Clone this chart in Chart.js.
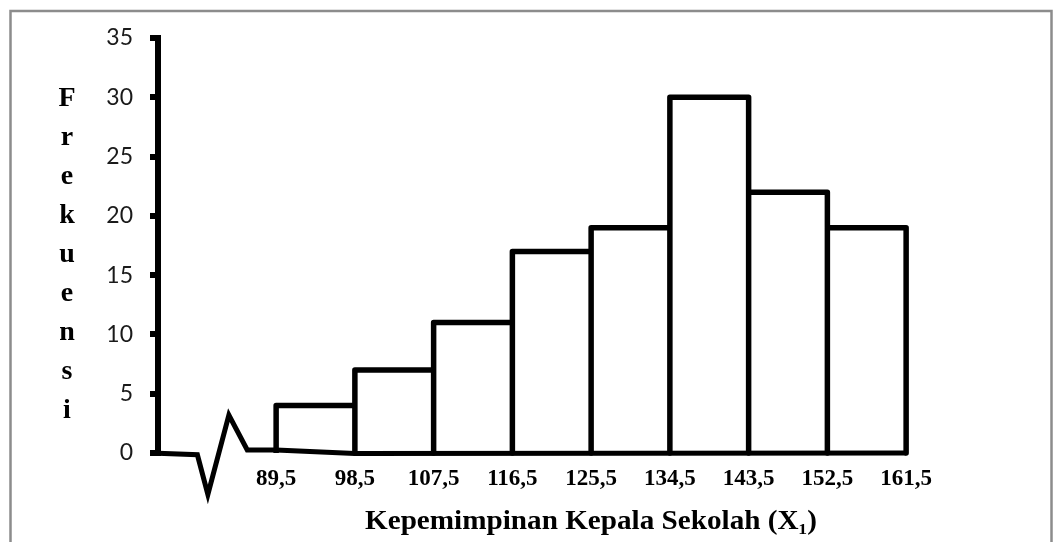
<!DOCTYPE html>
<html>
<head>
<meta charset="utf-8">
<script src="https://cdn.jsdelivr.net/npm/chart.js@4.4.1/dist/chart.umd.min.js"></script>
<style>
  html, body { margin: 0; padding: 0; background: #ffffff; }
  #wrap { width: 1055px; height: 542px; }
</style>
</head>
<body>
<div id="wrap"><canvas id="hist" width="1055" height="542"></canvas></div>
<script>
// Class boundaries and frequencies of the histogram
const classEdges = [89.5, 98.5, 107.5, 116.5, 125.5, 134.5, 143.5, 152.5, 161.5];
const edgeLabels = ['89,5', '98,5', '107,5', '116,5', '125,5', '134,5', '143,5', '152,5', '161,5'];
const frequencies = [4, 7, 11, 17, 19, 30, 22, 19];

// Axis break (zig-zag) on the horizontal axis, in data units
const breakX = [75.2, 80.5, 81.7, 84.1, 86.2, 89.5, 98.5, 161.5];
const breakY = [0, -0.15, -3.5, 3.2, 0.25, 0.25, -0.05, 0];

const yTitle = 'Frekuensi';
const xTitle = 'Kepemimpinan Kepala Sekolah (X\u2081)';

// Outline of every class bar: up the left edge, across the top, down the right edge
const outline = [];
frequencies.forEach((f, i) => {
  const lo = classEdges[i], hi = classEdges[i + 1];
  outline.push({ x: lo, y: 0 }, { x: lo, y: f }, { x: hi, y: f }, { x: hi, y: 0 });
});
const baseline = breakX.map((x, i) => ({ x, y: breakY[i] }));

const decorations = {
  id: 'decorations',
  beforeDraw(chart) {
    const ctx = chart.ctx;
    ctx.save();
    ctx.fillStyle = '#ffffff';
    ctx.fillRect(0, 0, chart.width, chart.height);
    ctx.strokeStyle = '#8c8c8c';
    ctx.lineWidth = 2.5;
    ctx.strokeRect(10.5, 11, 1041, 600);
    ctx.restore();
  },
  afterDraw(chart) {
    const ctx = chart.ctx;
    const xs = chart.scales.x;
    ctx.save();
    ctx.fillStyle = '#000000';

    // class boundary labels
    ctx.font = 'bold 23px "Liberation Serif", "Times New Roman", serif';
    ctx.textAlign = 'center';
    ctx.textBaseline = 'alphabetic';
    classEdges.forEach((v, i) => {
      ctx.fillText(edgeLabels[i], xs.getPixelForValue(v), 485);
    });

    // horizontal axis title
    ctx.font = 'bold 27px "Liberation Serif", "Times New Roman", serif';
    const w = ctx.measureText(xTitle).width;
    ctx.translate(591, 529);
    ctx.scale(452 / w, 1);
    ctx.fillText(xTitle, 0, 0);
    ctx.setTransform(1, 0, 0, 1, 0, 0);

    // vertical axis title, one letter per line
    ctx.font = 'bold 28px "Liberation Serif", "Times New Roman", serif';
    yTitle.split('').forEach((ch, i) => {
      ctx.fillText(ch, 67, 106 + i * 39);
    });
    ctx.restore();
  }
};

new Chart(document.getElementById('hist'), {
  type: 'line',
  data: {
    datasets: [
      {
        data: outline,
        borderColor: '#000000',
        borderWidth: 5.5,
        borderJoinStyle: 'round',
        pointRadius: 0,
        tension: 0,
        fill: false,
        clip: false
      },
      {
        data: baseline,
        borderColor: '#000000',
        borderWidth: 5,
        borderJoinStyle: 'miter',
        pointRadius: 0,
        tension: 0,
        fill: false,
        clip: false
      }
    ]
  },
  options: {
    responsive: false,
    animation: false,
    events: [],
    layout: { padding: { left: 0, right: 57, top: 38, bottom: 89 } },
    plugins: { legend: { display: false }, tooltip: { enabled: false } },
    scales: {
      x: {
        type: 'linear',
        min: 76,
        max: 172,
        display: false
      },
      y: {
        type: 'linear',
        min: 0,
        max: 35,
        afterFit(scale) { scale.width = 158; },
        border: { display: true, color: '#000000', width: 6 },
        grid: {
          drawOnChartArea: false,
          drawTicks: true,
          tickLength: 8,
          tickWidth: 6,
          tickColor: '#000000',
          lineWidth: 6
        },
        ticks: {
          stepSize: 5,
          padding: 17,
          color: '#1a1a1a',
          font: { family: 'Lato, "Open Sans", sans-serif', size: 23 }
        }
      }
    }
  },
  plugins: [decorations]
});
</script>
</body>
</html>
